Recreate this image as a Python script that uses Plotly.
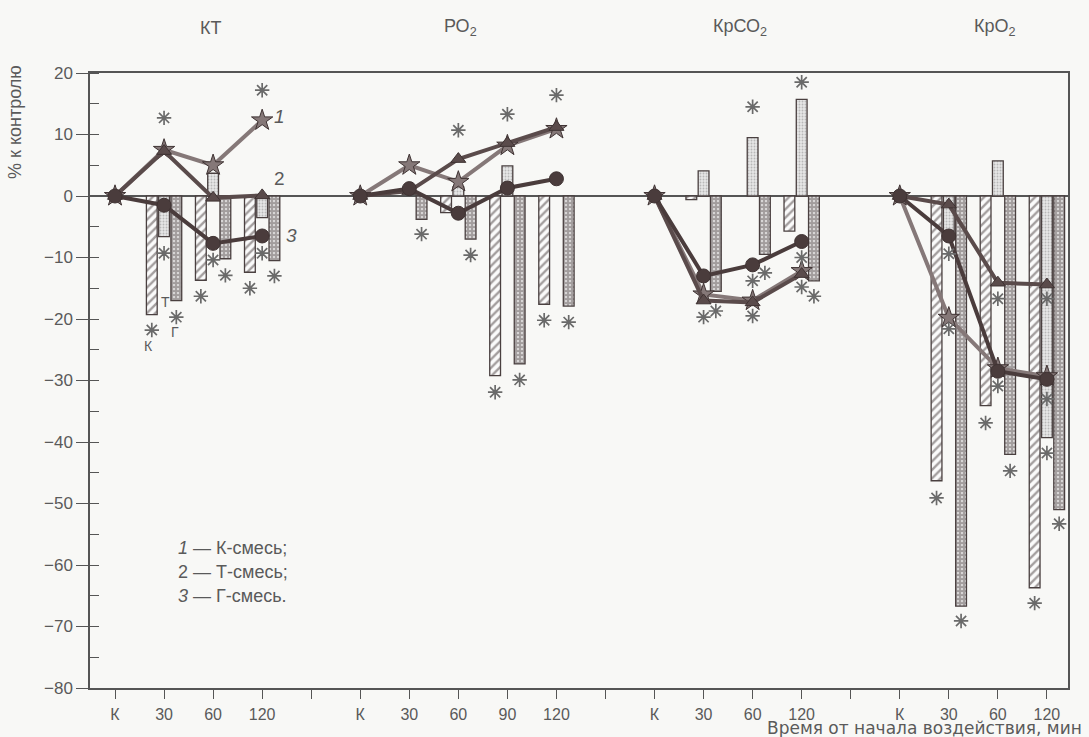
import plotly.graph_objects as go

# ---------------- DATA ----------------
panel_titles = ["КТ", "РО<sub>2</sub>", "КрСО<sub>2</sub>", "КрО<sub>2</sub>"]
panel_cats = [["К", "30", "60", "120"],
              ["К", "30", "60", "90", "120"],
              ["К", "30", "60", "120"],
              ["К", "30", "60", "120"]]

# bars, % к контролю (None = no bar)
bar_K = [[None, -19.3, -13.7, -12.4],
         [None, None, -2.7, -29.2, -17.6],
         [None, -0.6, None, -5.7],
         [None, -46.3, -34.1, -63.7]]
bar_T = [[None, -6.6, 3.7, -3.5],
         [None, None, 1.5, 4.9, None],
         [None, 4.1, 9.5, 15.7],
         [None, -5.7, 5.7, -39.3]]
bar_G = [[None, -17.0, -10.2, -10.5],
         [None, -3.8, -7.0, -27.3, -17.9],
         [None, -15.5, -9.5, -13.8],
         [None, -66.7, -42.0, -51.0]]

# lines: 1 — К-смесь, 2 — Т-смесь, 3 — Г-смесь
line1 = [[0, 7.5, 5.0, 12.3], [0, 5.0, 2.3, 8.2, 10.9], [0, -16.0, -17.0, -12.2], [0, -19.8, -28.0, -29.3]]
line2 = [[0, 7.3, -0.3, 0.1], [0, 0.8, 6.0, 8.6, 11.2], [0, -17.0, -17.3, -12.7], [0, -1.4, -14.1, -14.4]]
line3 = [[0, -1.5, -7.7, -6.5], [0, 1.2, -2.8, 1.3, 2.8], [0, -13.0, -11.2, -7.4], [0, -6.5, -28.5, -29.8]]

# significance asterisks: panel, category index in panel, bar series, value
ast_panel = [0]*11 + [1]*9 + [2]*10 + [3]*13
ast_cat = [1, 3, 1, 1, 1, 2, 2, 2, 3, 3, 3,
           2, 3, 4, 1, 2, 3, 3, 4, 4,
           2, 3, 1, 1, 2, 2, 2, 3, 3, 3,
           1, 1, 1, 1, 2, 2, 2, 2, 3, 3, 3, 3, 3]
ast_series = ["Т", "Т", "Т", "К", "Г", "Т", "К", "Г", "К", "Т", "Г",
              "Т", "Т", "Т", "Г", "Г", "К", "Г", "К", "Г",
              "Т", "Т", "Т", "Г", "Т", "Г", "Т", "Т", "Т", "Г",
              "Т", "Т", "К", "Г", "Т", "Т", "К", "Г", "Т", "Т", "Т", "К", "Г"]
ast_val = [12.7, 17.2, -9.3, -21.8, -19.7, -10.4, -16.3, -12.9, -15.0, -9.3, -13.0,
           10.7, 13.3, 16.4, -6.2, -9.6, -31.9, -29.9, -20.2, -20.5,
           14.5, 18.5, -19.7, -18.7, -13.8, -12.5, -19.5, -10.0, -14.8, -16.3,
           -9.4, -21.6, -49.1, -69.1, -16.7, -30.9, -36.9, -44.7, -16.7, -33.0, -41.8, -66.2, -53.3]

legend_lines = ["<i>1</i> — К-смесь;", "2 — Т-смесь;", "<i>3</i> — Г-смесь."]
y_title = "% к контролю"
x_title = "Время от начала воздействия, мин"

# ---------------- LAYOUT HELPERS ----------------
W, H = 1089, 737
L, R, T, B = 90, 21, 73, 49
PW, PH = W - L - R, H - T - B
def px(x):
    return (x - L) / PW
def py(y):
    return (H - B - y) / PH

positions = []
p = 0
for cats in panel_cats:
    positions.append(list(range(p, p + len(cats))))
    p += len(cats) + 1
tickvals = list(range(p - 1))
ticktext = []
for cats in panel_cats:
    ticktext += cats + [""]
ticktext = ticktext[:-1]

offset = {"К": -0.25, "Т": 0.0, "Г": 0.25}
BW = 0.22

def bar_xy(series, key):
    xs, ys = [], []
    for pos, vals in zip(positions, series):
        for x, v in zip(pos, vals):
            if v is not None:
                xs.append(x + offset[key])
                ys.append(v)
    return xs, ys

def line_xy(series):
    xs, ys = [], []
    for pos, vals in zip(positions, series):
        xs += pos + [None]
        ys += vals + [None]
    return xs, ys

TXT = "#5a5a5a"
BG = "#f8f8f6"
fig = go.Figure()

# bars
bar_styles = {
    "К": dict(color=BG, pattern=dict(shape="/", fgcolor="#4a4040", bgcolor="#fbfbfb", size=6, solidity=0.4)),
    "Т": dict(color="#e0e0e0", pattern=dict(shape=".", fgcolor="#8a8a8a", bgcolor="#e6e6e6", size=3, solidity=0.3)),
    "Г": dict(color="#fbfbfb", pattern=dict(shape=".", fgcolor="#4a4040", bgcolor="#fbfbfb", size=4, solidity=0.8)),
}
for key, series in (("К", bar_K), ("Т", bar_T), ("Г", bar_G)):
    xs, ys = bar_xy(series, key)
    st = bar_styles[key]
    fig.add_trace(go.Bar(x=xs, y=ys, width=BW,
                         marker=dict(color=st["color"], pattern=st["pattern"],
                                     line=dict(color="#4a4040", width=1.3)),
                         hoverinfo="skip"))

# lines
line_styles = [
    (line1, "#857878", "star", 16),
    (line2, "#5a4b4b", "triangle-up", 13),
    (line3, "#4a3c3c", "circle", 14),
]
for series, col, sym, sz in line_styles:
    xs, ys = line_xy(series)
    fig.add_trace(go.Scatter(x=xs, y=ys, mode="lines+markers", connectgaps=False,
                             line=dict(color=col, width=4),
                             marker=dict(symbol=sym, size=sz, color=col,
                                         line=dict(color="#3f3333", width=1)),
                             hoverinfo="skip"))

# asterisks
ax_x = [positions[pn][c] + offset[s] for pn, c, s in zip(ast_panel, ast_cat, ast_series)]
fig.add_trace(go.Scatter(x=ax_x, y=ast_val, mode="markers",
                         marker=dict(symbol="asterisk-open", size=12, color="#6a6a6a",
                                     line=dict(color="#6a6a6a", width=1.7)),
                         hoverinfo="skip"))

SANS = "Liberation Sans, Arial, sans-serif"
WIDE = "DejaVu Sans, Liberation Sans, sans-serif"

def ann(text, x, y, size, xanchor="center", yanchor="middle", family=SANS, **kw):
    d = dict(text=text, x=px(x), y=py(y), xref="paper", yref="paper",
             xanchor=xanchor, yanchor=yanchor, showarrow=False,
             font=dict(size=size, family=family, color=TXT))
    d.update(kw)
    return d

annotations = []
for title, xpix in zip(panel_titles, [210, 460, 740, 995]):
    annotations.append(ann(title, xpix, 28, 18))
annotations.append(ann(y_title, 15, 122, 18, textangle=-90))
annotations.append(ann(x_title, 1084, 728, 17, xanchor="right", family=WIDE))
for txt, ypix in zip(legend_lines, [548, 572, 596]):
    annotations.append(ann(txt, 176, ypix, 18, xanchor="left"))
for txt, xpix, ypix in (("<i>1</i>", 279, 116), ("2", 279, 178), ("<i>3</i>", 291, 235)):
    annotations.append(ann(txt, xpix, ypix, 19))
for txt, xpix, ypix in (("Т", 165, 302), ("Г", 175, 332), ("К", 148, 346)):
    annotations.append(ann(txt, xpix, ypix, 14))

fig.update_layout(width=W, height=H, margin=dict(l=L, r=R, t=T, b=B, pad=0),
                  paper_bgcolor=BG, plot_bgcolor=BG,
                  showlegend=False, barmode="overlay", annotations=annotations,
                  font=dict(family=SANS, color=TXT))
fig.update_xaxes(range=[-0.51, 19.43], tickmode="array", tickvals=tickvals, ticktext=ticktext,
                 ticks="outside", ticklen=9, tickwidth=1.2, tickcolor="#555", ticklabelstandoff=2,
                 showline=True, linecolor="#555", linewidth=1.5, mirror=True,
                 showgrid=False, zeroline=False, tickfont=dict(size=16, family=SANS, color=TXT))
fig.update_yaxes(range=[-80, 20], tickmode="linear", tick0=0, dtick=10,
                 ticks="outside", ticklen=12, tickwidth=1.2, tickcolor="#555",
                 minor=dict(ticks="inside", dtick=5, ticklen=9, tickwidth=1.2, tickcolor="#555"),
                 showline=True, linecolor="#555", linewidth=1.5, mirror=True,
                 showgrid=False, zeroline=True, zerolinecolor="#555", zerolinewidth=1.5,
                 tickfont=dict(size=17, family=SANS, color=TXT))

fig.write_html("out.html", config={"displayModeBar": False},
               post_script="document.body.style.margin='0';document.body.style.overflow='hidden';")
